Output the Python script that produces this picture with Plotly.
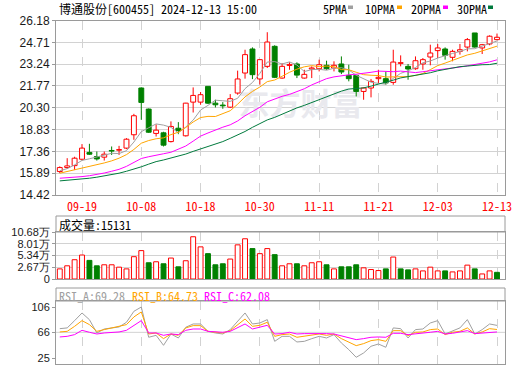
import plotly.graph_objects as go

# ---------------- data ----------------
tick_idx = [3, 11, 19, 27, 35, 43, 51, 59]
tick_labels = ["09-19", "10-08", "10-18", "10-30", "11-11", "11-21", "12-03", "12-13"]

opens = [16.00, 16.27, 16.40, 16.83, 17.29, 17.01, 16.97, 17.42, 17.44, 17.58,
         18.48, 21.63, 20.21, 18.57, 18.61, 18.02, 18.92, 18.41, 20.68, 20.68,
         21.74, 20.61, 20.48, 20.34, 21.29, 22.64, 24.26, 22.24, 23.09, 24.44,
         22.30, 23.15, 23.25, 22.30, 22.91, 22.93, 23.16, 22.98, 23.25, 22.48,
         22.48, 21.40, 21.63, 22.26, 22.26, 22.01, 23.29, 23.09, 22.93, 23.25,
         23.72, 24.15, 24.26, 23.70, 24.10, 24.39, 25.34, 24.33, 24.60, 24.89]
highs = [16.35, 16.90, 17.00, 17.85, 17.87, 17.35, 17.35, 17.69, 17.73, 18.25,
         19.89, 21.67, 20.25, 19.18, 18.68, 19.38, 19.33, 20.63, 21.67, 21.36,
         21.74, 20.84, 20.68, 21.22, 22.80, 24.21, 24.37, 23.58, 25.39, 24.51,
         23.31, 23.36, 23.36, 22.86, 23.09, 23.54, 23.47, 23.43, 23.76, 23.20,
         22.53, 21.67, 22.24, 22.86, 22.75, 24.21, 23.83, 23.25, 23.76, 23.65,
         24.55, 24.60, 24.37, 24.21, 24.60, 25.00, 25.34, 24.60, 25.18, 25.30]
lows = [15.90, 16.18, 16.11, 16.74, 17.12, 16.74, 16.74, 17.12, 17.12, 17.51,
        18.14, 19.49, 18.60, 18.36, 17.69, 17.96, 18.52, 18.36, 19.98, 20.50,
        20.55, 20.32, 20.23, 20.28, 21.18, 22.26, 22.23, 21.85, 22.98, 22.30,
        22.26, 22.86, 22.30, 22.26, 22.30, 22.75, 22.86, 22.75, 22.57, 22.08,
        21.06, 20.84, 21.00, 21.97, 21.85, 21.85, 23.09, 22.19, 22.86, 22.86,
        23.16, 23.65, 23.54, 23.43, 23.88, 24.10, 24.35, 23.92, 24.51, 24.85]
closes = [16.27, 16.38, 16.90, 17.58, 17.17, 16.85, 17.17, 17.38, 17.48, 18.18,
          19.76, 20.66, 18.65, 18.79, 17.78, 19.04, 18.77, 20.61, 21.13, 21.18,
          20.61, 20.50, 20.43, 20.91, 22.24, 23.88, 22.53, 23.54, 24.73, 22.35,
          23.09, 23.22, 22.50, 22.55, 22.98, 23.20, 22.93, 23.16, 22.71, 22.26,
          21.40, 21.63, 22.08, 22.35, 21.97, 23.38, 23.34, 22.91, 23.47, 23.54,
          23.99, 24.33, 23.83, 24.10, 24.21, 24.89, 24.39, 24.55, 25.12, 25.05]

ma5 = [16.05, 16.20, 16.45, 16.75, 16.86, 16.98, 17.13, 17.23, 17.21, 17.41,
       17.99, 18.69, 18.95, 19.21, 19.13, 18.98, 18.61, 19.00, 19.47, 20.15,
       20.46, 20.81, 20.77, 20.73, 20.94, 21.59, 22.00, 22.62, 23.38, 23.41,
       23.25, 23.39, 23.18, 22.74, 22.87, 22.89, 22.83, 22.96, 23.00, 22.85,
       22.49, 22.23, 22.02, 21.94, 21.89, 22.28, 22.62, 22.79, 23.01, 23.33,
       23.45, 23.65, 23.83, 23.96, 24.09, 24.27, 24.28, 24.43, 24.63, 24.80]
ma10 = [15.89, 16.00, 16.10, 16.22, 16.35, 16.45, 16.58, 16.72, 16.90, 17.14,
        17.49, 17.91, 18.09, 18.21, 18.27, 18.49, 18.65, 18.97, 19.34, 19.64,
        19.72, 19.71, 19.88, 20.10, 20.54, 21.03, 21.40, 21.70, 22.06, 22.17,
        22.42, 22.69, 22.90, 23.06, 23.14, 23.07, 23.11, 23.07, 22.87, 22.86,
        22.69, 22.53, 22.49, 22.47, 22.37, 22.39, 22.43, 22.40, 22.48, 22.61,
        22.87, 23.14, 23.31, 23.49, 23.71, 23.86, 23.97, 24.13, 24.30, 24.45]
ma20 = [15.55, 15.58, 15.62, 15.66, 15.72, 15.80, 15.90, 16.02, 16.15, 16.35,
        16.60, 16.88, 17.00, 17.12, 17.20, 17.30, 17.50, 17.72, 18.05, 18.39,
        18.60, 18.81, 18.99, 19.15, 19.41, 19.76, 20.03, 20.33, 20.70, 20.90,
        21.07, 21.20, 21.39, 21.58, 21.84, 22.05, 22.26, 22.38, 22.46, 22.52,
        22.56, 22.61, 22.69, 22.77, 22.75, 22.73, 22.77, 22.74, 22.67, 22.73,
        22.78, 22.83, 22.90, 22.98, 23.04, 23.12, 23.20, 23.27, 23.39, 23.53]
ma30 = [15.37, 15.41, 15.46, 15.50, 15.55, 15.62, 15.70, 15.79, 15.89, 16.02,
        16.16, 16.32, 16.50, 16.67, 16.78, 16.90, 17.01, 17.18, 17.36, 17.52,
        17.68, 17.85, 18.02, 18.24, 18.46, 18.70, 18.98, 19.25, 19.48, 19.65,
        19.88, 20.10, 20.29, 20.46, 20.65, 20.86, 21.05, 21.25, 21.42, 21.56,
        21.61, 21.64, 21.76, 21.88, 22.02, 22.16, 22.31, 22.39, 22.47, 22.55,
        22.66, 22.79, 22.90, 23.01, 23.07, 23.11, 23.17, 23.20, 23.21, 23.30]

volume = [23000, 30000, 43800, 54500, 42300, 30000, 32300, 32300, 26900, 23000,
          50700, 64500, 36900, 39200, 34600, 47600, 27700, 41500, 96000, 73000,
          57600, 32300, 34600, 45300, 77600, 91400, 69100, 57600, 69100, 55300,
          30000, 34600, 34600, 30000, 36900, 39200, 32300, 23000, 27700, 27700,
          32300, 25400, 21500, 19200, 23000, 49900, 23000, 20700, 23000, 18400,
          26900, 18400, 18400, 16100, 18400, 31500, 23000, 11500, 18400, 15131]

rsi_a = [71.8, 73.0, 84.5, 96.6, 86.0, 65.0, 71.3, 73.0, 74.5, 81.9,
         99.2, 106.0, 58.2, 61.3, 45.5, 63.4, 57.1, 74.0, 79.2, 79.2,
         67.6, 65.0, 63.4, 70.3, 83.4, 96.6, 79.2, 80.8, 86.1, 51.8,
         59.7, 59.7, 50.8, 51.8, 56.0, 59.7, 57.1, 62.4, 49.2, 38.7,
         26.6, 33.4, 44.0, 47.6, 42.4, 73.0, 71.8, 57.1, 70.3, 71.3,
         80.8, 84.5, 63.4, 68.7, 73.0, 86.1, 63.4, 70.3, 79.2, 77.0]
rsi_b = [66.6, 67.6, 75.5, 84.5, 78.2, 67.6, 70.3, 73.0, 74.5, 78.2,
         90.3, 98.2, 63.4, 65.0, 56.1, 63.4, 61.3, 73.0, 76.6, 76.6,
         67.6, 66.1, 65.0, 68.7, 78.2, 87.1, 75.5, 77.1, 81.9, 59.7,
         62.4, 63.4, 58.2, 59.7, 61.3, 63.4, 61.3, 63.4, 56.1, 50.3,
         45.0, 48.2, 52.9, 54.5, 51.8, 68.7, 68.7, 60.8, 66.1, 66.6,
         70.3, 71.3, 62.4, 66.1, 67.6, 73.0, 63.4, 66.6, 71.8, 70.5]
rsi_c = [58.7, 59.7, 62.4, 69.2, 66.1, 63.4, 65.0, 66.1, 66.6, 69.2,
         77.1, 84.5, 65.0, 65.0, 61.3, 63.4, 62.4, 69.2, 71.3, 71.3,
         67.6, 66.6, 66.1, 67.6, 73.0, 79.2, 71.3, 74.0, 77.1, 63.4,
         64.0, 66.1, 63.4, 64.0, 64.0, 65.0, 64.0, 63.4, 60.8, 58.2,
         54.5, 56.1, 58.2, 58.7, 58.2, 64.5, 64.5, 62.4, 63.4, 64.0,
         66.1, 67.6, 63.4, 64.5, 66.1, 68.7, 64.0, 65.0, 66.6, 66.6]

price_ticks = [14.42, 15.89, 17.36, 18.83, 20.30, 21.77, 23.24, 24.71, 26.18]
vol_ticks = [0, 26700, 53400, 80100, 106800]
vol_tick_labels = ["0", "2.67万", "5.34万", "8.01万", "10.68万"]
rsi_ticks = [25, 66, 106]

title_text = "博通股份[600455] 2024-12-13 15:00"
vol_header = "成交量:15131"
rsi_headers = ["RSI_A:69.28", "RSI_B:64.73", "RSI_C:62.08"]
legend_names = ["5PMA", "10PMA", "20PMA", "30PMA"]

# ---------------- style ----------------
W, H = 520, 365
L, R = 56, 505
RED = "#ff0000"
GREEN = "#008000"
MA_COLORS = ["#a0a0a0", "#ffa500", "#ff00ff", "#007a3d"]
RSI_COLORS = ["#a0a0a0", "#ffa500", "#ff00ff"]
FRAME = "#9a9a9a"
GRID = "#d2d2d2"
MONO = "Noto Sans Mono CJK SC, Noto Sans CJK SC, DejaVu Sans Mono, monospace"
SANS = "Liberation Sans, Arial, sans-serif"


def px(x):
    return x / W


def py(y):
    return 1 - y / H


n = len(closes)
idx = list(range(n))
XR = [-0.51, 60.08]

fig = go.Figure()

# watermark (base subplot, below everything)
fig.add_trace(go.Scatter(x=[32.5], y=[20.35], mode="text", text=["东方财富"],
                         textfont=dict(family="Noto Sans CJK SC", size=31, color="#e9e9ee", weight=700),
                         xaxis="x", yaxis="y", hoverinfo="skip", showlegend=False))

# candle bodies
body_base, body_h, body_fill, body_line = [], [], [], []
for o, c in zip(opens, closes):
    lo, hi = min(o, c), max(o, c)
    body_base.append(lo)
    body_h.append(max(hi - lo, 0.02))
    if c >= o:
        body_fill.append("#ffffff")
        body_line.append(RED)
    else:
        body_fill.append(GREEN)
        body_line.append(GREEN)

fig.add_trace(go.Bar(x=idx, y=body_h, base=body_base, width=0.66,
                     marker=dict(color=body_fill, line=dict(color=body_line, width=1)),
                     xaxis="x", yaxis="y4", hoverinfo="skip", showlegend=False))

# wicks
for col, up in ((RED, True), (GREEN, False)):
    wx, wy = [], []
    for i in idx:
        o, c = opens[i], closes[i]
        if (c >= o) != up:
            continue
        top, bot = max(o, c), min(o, c)
        wx += [i, i, None, i, i, None]
        wy += [highs[i], top, None, bot, lows[i], None]
    fig.add_trace(go.Scatter(x=wx, y=wy, mode="lines", line=dict(color=col, width=1),
                             xaxis="x", yaxis="y4", hoverinfo="skip", showlegend=False))

# moving averages
for ma, col in zip([ma5, ma10, ma20, ma30], MA_COLORS):
    fig.add_trace(go.Scatter(x=idx, y=ma, mode="lines", line=dict(color=col, width=1),
                             xaxis="x", yaxis="y4", hoverinfo="skip", showlegend=False))

# volume
v_fill, v_line = [], []
for i in idx:
    up = True if i == 0 else closes[i] >= closes[i - 1]
    v_fill.append("#ffffff" if up else GREEN)
    v_line.append(RED if up else GREEN)
fig.add_trace(go.Bar(x=idx, y=volume, width=0.66,
                     marker=dict(color=v_fill, line=dict(color=v_line, width=1)),
                     xaxis="x2", yaxis="y2", hoverinfo="skip", showlegend=False))

# RSI
for r, col in zip([rsi_a, rsi_b, rsi_c], RSI_COLORS):
    fig.add_trace(go.Scatter(x=idx, y=r, mode="lines", line=dict(color=col, width=1),
                             xaxis="x3", yaxis="y3", hoverinfo="skip", showlegend=False))

xcommon = dict(domain=[px(L), px(R)], range=XR, tickvals=tick_idx, showgrid=True,
               gridcolor=GRID, griddash="dash", gridwidth=1, showline=True, linecolor=FRAME,
               mirror=True, zeroline=False, ticks="", fixedrange=True, automargin=False)
ycommon = dict(showline=True, linecolor=FRAME, mirror=True, zeroline=False,
               tickfont=dict(family=SANS, size=12, color="#1a1a1a"), fixedrange=True,
               automargin=False, ticklabeloverflow="allow")

fig.update_layout(
    width=W, height=H, margin=dict(l=0, r=0, t=0, b=0, pad=0, autoexpand=False),
    paper_bgcolor="white", plot_bgcolor="white", showlegend=False, barmode="overlay",
    xaxis=dict(**xcommon, anchor="y", ticktext=tick_labels,
               tickfont=dict(family=MONO, size=12, color=RED), ticklabelstandoff=1,
               rangeslider=dict(visible=False)),
    xaxis2=dict(**xcommon, anchor="y2", showticklabels=False),
    xaxis3=dict(**xcommon, anchor="y3", showticklabels=False),
    yaxis=dict(**ycommon, domain=[py(195), py(20.5)], range=[price_ticks[0], price_ticks[-1]],
               tickvals=price_ticks, ticktext=[f"{v:.2f}" for v in price_ticks],
               showgrid=True, gridcolor=GRID, ticks="outside", ticklen=3, tickcolor=FRAME,
               anchor="x"),
    yaxis4=dict(overlaying="y", range=[price_ticks[0], price_ticks[-1]], visible=False,
                anchor="x", fixedrange=True, automargin=False),
    yaxis2=dict(**ycommon, domain=[py(279), py(232)], range=[0, vol_ticks[-1]],
                tickvals=vol_ticks, ticktext=vol_tick_labels, showgrid=True, gridcolor=GRID,
                ticks="outside", ticklen=3, tickcolor=FRAME, anchor="x2"),
    yaxis3=dict(**ycommon, domain=[py(364), py(301)], range=[16, 115.5],
                tickvals=rsi_ticks, ticktext=[str(v) for v in rsi_ticks], showgrid=False,
                ticks="outside", ticklen=3, tickcolor=FRAME, anchor="x3"),
)
fig.update_yaxes(selector=dict(anchor="x2"), tickfont=dict(family=SANS, size=11, color="#1a1a1a"))
fig.update_yaxes(selector=dict(anchor="x3"), tickfont=dict(family=SANS, size=11, color="#1a1a1a"))

shapes = [
    dict(type="rect", xref="paper", yref="paper", x0=px(L), x1=px(R), y0=py(232), y1=py(216),
         line=dict(color=FRAME, width=1), fillcolor="rgba(0,0,0,0)"),
    dict(type="rect", xref="paper", yref="paper", x0=px(L), x1=px(R), y0=py(301), y1=py(288),
         line=dict(color=FRAME, width=1), fillcolor="rgba(0,0,0,0)"),
    dict(type="line", xref="paper", yref="y3", x0=px(L), x1=px(R), y0=66, y1=66,
         line=dict(color=GRID, width=1), layer="below"),
]

annotations = [
    dict(text=title_text, x=px(57), y=py(8.5), xref="paper", yref="paper", xanchor="left",
         yanchor="middle", showarrow=False, font=dict(family=MONO, size=12, color="#000")),
    dict(text=vol_header, x=px(57), y=py(224), xref="paper", yref="paper", xanchor="left",
         yanchor="middle", showarrow=False, font=dict(family=MONO, size=12, color="#000")),
]
for txt, col, x0 in zip(rsi_headers, RSI_COLORS, [57, 130, 202]):
    annotations.append(dict(text=txt, x=px(x0), y=py(295), xref="paper", yref="paper",
                            xanchor="left", yanchor="middle", showarrow=False,
                            font=dict(family=MONO, size=12, color=col)))

legend_x = [321, 363, 409, 455]
legend_sq = [348, 397, 443, 488]
for name, col, tx, sx in zip(legend_names, MA_COLORS, legend_x, legend_sq):
    annotations.append(dict(text=name, x=px(tx), y=py(8), xref="paper", yref="paper",
                            xanchor="left", yanchor="middle", showarrow=False,
                            font=dict(family=MONO, size=12, color="#000")))
    shapes.append(dict(type="rect", xref="paper", yref="paper", x0=px(sx), x1=px(sx + 5),
                       y0=py(9), y1=py(5.5), line=dict(width=0), fillcolor=col))

fig.update_layout(shapes=shapes, annotations=annotations)

fig.write_html("out.html")
